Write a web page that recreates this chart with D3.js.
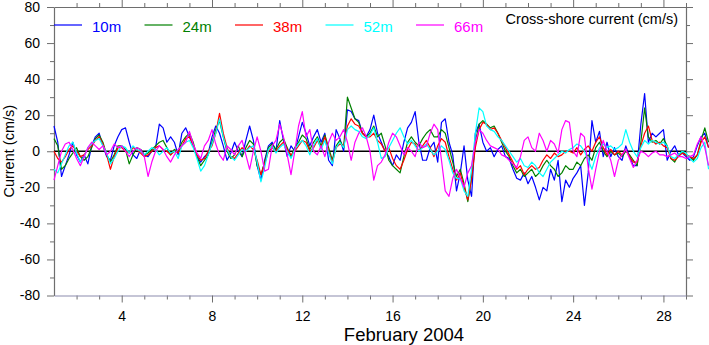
<!DOCTYPE html>
<html>
<head>
<meta charset="utf-8">
<script src="https://cdn.jsdelivr.net/npm/d3@7"></script>
<style>
  html, body { margin: 0; padding: 0; background: #fff; }
  svg { display: block; }
  text { font-family: "Liberation Sans", Arial, Helvetica, sans-serif; }
</style>
</head>
<body>
<svg id="chart" width="709" height="345"></svg>
<script>
// ---------------- DATA ----------------
// Sampling: every 4 hours (6 per day) starting 1 Feb 2004 00:00
const startDay = 1;
const samplesPerDay = 6;

const seriesNames = ["10m", "24m", "38m", "52m", "66m"];
const seriesColors = ["#0000ff", "#008000", "#ff0000", "#00ffff", "#ff00ff"];

const s10 = [
  14, 5, -14, -8, -2, 5,
  -2, -6, -2, -7, 3, 8,
  10, 3, -3, -5, 3, 8,
  12, 13, 5, -2, -4, 1,
  -2, -3, 0, 2, 15, 13,
  5, 8, 5, -2, 10, 13,
  8, 3, -3, -6, -3, -1,
  8, 14, 10, 3, -5, -1,
  5, 0, -3, 6, 14, 6,
  -8, -16, -5, 3, 5, 0,
  17, 6, -3, 3, 0, 8,
  16, 10, 3, 8, 12, 5,
  10, -5, -8, 12, 7, 0,
  23, 22, 18, 17, 10, 8,
  12, 20, 10, 5, 0, -3,
  -8, -2, -5, 5, 13, 16,
  22, 5, -5, -5, 2, 5,
  -6, 16, 18, 5, -2, -22,
  -12, 3, -16, -25, 10, 15,
  5, 0, 2, -3, 1, 3,
  -3, -4, -10, -15, -16, -12,
  -18, -14, -20, -27, -20, -22,
  -10, -16, -5, -28, -16, -20,
  -15, -12, -8, -30, -12, 17,
  5, 11, -3, 5, -3, 2,
  -3, -5, 3, -3, -8, -8,
  15, 32, 5, 10, 8, 10,
  12, -5, 0, 3, -2, -1,
  -3, -5, -3, 3, 8, 10,
  2
];

const s24 = [
  7, 3, -10, -8, -4, -1,
  2, -3, -5, -3, 2, 7,
  9, 5, -2, -6, -2, 3,
  3, 1, -7, -2, 2, 1,
  -2, -1, 1, 3, 5, 6,
  2, -2, 1, 0, 5, 8,
  10, 5, -3, -8, -5, -2,
  5, 12, 17, 8, 0, -4,
  -2, 3, -3, 2, 6, 4,
  -8, -13, -6, 2, 4, 1,
  5, 7, 2, -3, 2, 5,
  9, 7, 1, 5, 8, 3,
  9, 2, -5, 3, 6, 2,
  30, 24, 18, 16, 10, 8,
  10, 14, 8, 10, 3, -5,
  -8, -10, -12, -3, 5, 8,
  5, 3, 7, 10, 12, 8,
  8, 12, 10, 2, -6, -14,
  -10, -18, -28, -15, 5, 15,
  17, 15, 13, 14, 10, 5,
  0, -3, -8, -12, -10, -14,
  -12, -10, -14, -12, -8, -5,
  -8, -10, -14, -12, -8, -10,
  -10, -6, -8, -4, -2, -5,
  2, 5, 0, -3, 0, -2,
  -1, -3, 0, -2, -5, -8,
  5, 24, 8, 5, 6, 4,
  7, 3, -4, -6, -2, 0,
  -2, -3, -5, -2, 6, 13,
  5
];

const s38 = [
  0, -4, -6, -3, 1, 3,
  0, -3, -2, 1, 3, 6,
  8, 4, -2, -10, -3, 2,
  2, 0, -1, 2, 1, -1,
  -3, -2, 0, 2, 3, 1,
  0, -2, 0, -1, 3, 7,
  8, 3, -2, -5, -4, 0,
  3, 10, 21, 10, 2, -3,
  -4, -1, 2, 0, 3, 1,
  -5, -13, -7, 0, 2, 0,
  3, 5, 1, -2, 0, 3,
  6, 5, 0, 2, 6, 2,
  8, 0, -6, 2, 4, 3,
  14, 18, 15, 14, 10, 8,
  8, 10, 6, 4, 0, 2,
  -4, -8, -10, -5, 1, 5,
  4, 0, 3, 6, 2, -3,
  3, 7, 5, -3, -10, -16,
  -12, -20, -27, -15, 2, 12,
  16, 15, 12, 13, 10, 6,
  2, -2, -6, -10, -8, -13,
  -10, -8, -10, -9, -5, -2,
  -4, -1, -3, -2, 0, 0,
  -1, 2, -2, 1, 3, 0,
  5, 8, 2, -2, 1, -2,
  0, -2, 1, -3, -6, -6,
  3, 10, 14, 6, 4, 5,
  3, 2, -4, -5, -3, -1,
  -2, -3, -4, -2, 5, 8,
  2
];

const s52 = [
  -10, -12, -7, -2, 3, 5,
  -1, -6, -3, 2, 4, 6,
  7, 3, -1, -7, -4, 0,
  3, 2, -1, 3, 1, 0,
  -2, 0, 2, 1, -2, 0,
  2, -1, 0, -4, 3, 5,
  6, 2, -4, -11, -8, -2,
  4, 10, 18, 8, 1, -3,
  -5, -2, 1, 0, 2, 3,
  -6, -17, -9, 1, 3, -1,
  2, 4, 0, -4, 1, 4,
  6, 3, -2, 3, 7, 1,
  6, -1, -7, 2, 5, 2,
  12, 14, 12, 11, 8, 7,
  9, 13, 5, -4, -3, 2,
  6, 10, 13, 8, 4, 6,
  3, 0, 2, 4, 1, -2,
  0, 3, 1, -5, -12, -15,
  -15, -22, -25, -10, 10, 24,
  22, 14, 12, 11, 8, 6,
  3, 0, -3, -6, -4, -8,
  -9, -6, -8, -12, -14, -10,
  -6, -4, -2, 0, -1, 1,
  2, 4, 3, 0, -5, -10,
  -3, 2, 4, 2, 3, 1,
  2, 4, 12, 5, 0, -3,
  2, 6, 4, 6, 5, 4,
  5, 3, -3, -4, -2, 0,
  -1, -4, -6, -4, 2, 5,
  -10
];

const s66 = [
  -16, -8, 0, 4, 5, 1,
  -4, -8, -3, 2, 5, 3,
  1, 3, -2, 0, 4, 2,
  3, 0, -3, 0, 2, 1,
  -3, -14, -6, 0, 3, 1,
  -3, -6, -2, 1, 3, 5,
  11, 4, -1, -4, 3, 6,
  12, 4, -2, -5, 3, 1,
  -2, 3, 6, -2, -10, 0,
  8, 0, -11, -10, 3, 6,
  15, 8, -2, -13, 0, 14,
  22, 8, 12, 0, -2, 3,
  -3, 5, 10, 6, 8, 12,
  5, -5, 5, 10, 13, 8,
  0, -16, -8, -6, -2, 5,
  10, 8, 3, -2, 2, 0,
  -3, 5, 2, 3, 10, 15,
  12, -5, -22, -25, -15, -10,
  -15, -20, -12, -8, 5, 12,
  10, 6, 3, 2, 1, -2,
  -3, -5, -7, -9, -3, 6,
  8, 2, 0, 10, 6, 0,
  6, 4, -1, 12, 17, 16,
  0, -3, 10, 8, -9, -21,
  -10, 0, 6, 0, -5, -14,
  -5, -2, 1, -4, -9, -5,
  0, -1, -3, -1, 0, -2,
  -2, -3, -2, -1, -3, -3,
  -4, -3, -2, 4, 8, 2,
  -8
];

const yMajorTicks = [-80, -60, -40, -20, 0, 20, 40, 60, 80];
const yMinorTicks = [-70, -50, -30, -10, 10, 30, 50, 70];
const xMajorTicks = [4, 8, 12, 16, 20, 24, 28];
const xMinorTicks = [2, 3, 5, 6, 7, 9, 10, 11, 13, 14, 15, 17, 18, 19, 21, 22, 23, 25, 26, 27, 29];

const xTitle = "February 2004";
const yTitle = "Current (cm/s)";
const chartTitle = "Cross-shore current (cm/s)";

// ---------------- DRAW ----------------
(function () {
const svg = d3.select("#chart");
const pLeft = 54, pRight = 686, pTop = 7, pBottom = 295.5;

const x = d3.scaleLinear().domain([1, 29]).range([pLeft, pRight]);
const y = d3.scaleLinear().domain([-80, 80]).range([pBottom, pTop]);

const axisColor = "#6e6e6e";

function styleAxis(g, lineColor) {
  g.select(".domain").attr("stroke", lineColor || axisColor).attr("stroke-width", 1.2);
  g.selectAll(".tick line").attr("stroke", axisColor).attr("stroke-width", 1);
  g.selectAll(".tick text").attr("fill", "#000").style("font-size", "14px")
    .style("font-family", "'Liberation Sans', Arial, sans-serif");
}
function minorStyle(g) {
  g.select(".domain").remove();
  g.selectAll(".tick line").attr("stroke", axisColor);
}

// minor ticks
svg.append("g").attr("transform", `translate(${pLeft},0)`)
  .call(d3.axisLeft(y).tickValues(yMinorTicks).tickSize(4).tickFormat("")).call(minorStyle);
svg.append("g").attr("transform", `translate(${pRight},0)`)
  .call(d3.axisRight(y).tickValues(yMinorTicks).tickSize(4).tickFormat("")).call(minorStyle);
svg.append("g").attr("transform", `translate(0,${pBottom})`)
  .call(d3.axisBottom(x).tickValues(xMinorTicks).tickSize(4).tickFormat("")).call(minorStyle);
svg.append("g").attr("transform", `translate(0,${pTop})`)
  .call(d3.axisTop(x).tickValues(xMinorTicks).tickSize(4).tickFormat("")).call(minorStyle);

// major axes
svg.append("g").attr("transform", `translate(${pLeft},0)`)
  .call(d3.axisLeft(y).tickValues(yMajorTicks).tickSize(7).tickSizeOuter(0).tickPadding(7).tickFormat(d => String(d)))
  .call(g => styleAxis(g));
svg.append("g").attr("transform", `translate(${pRight},0)`)
  .call(d3.axisRight(y).tickValues(yMajorTicks).tickSize(7).tickSizeOuter(0).tickFormat(""))
  .call(g => styleAxis(g));
svg.append("g").attr("transform", `translate(0,${pTop})`)
  .call(d3.axisTop(x).tickValues(xMajorTicks).tickSize(7).tickSizeOuter(0).tickFormat(""))
  .call(g => styleAxis(g));
svg.append("g").attr("transform", `translate(0,${pBottom})`)
  .call(d3.axisBottom(x).tickValues(xMajorTicks).tickSize(7).tickSizeOuter(0).tickPadding(9).tickFormat(d => String(d)))
  .call(g => styleAxis(g, "#8c8cae"));

// zero line
svg.append("line")
  .attr("x1", x(1)).attr("x2", x(29))
  .attr("y1", y(0)).attr("y2", y(0))
  .attr("stroke", "#000").attr("stroke-width", 1.5);

// series
const allSeries = [s10, s24, s38, s52, s66];
const line = d3.line()
  .x((d, i) => x(startDay + i / samplesPerDay))
  .y(d => y(d));

allSeries.forEach((vals, k) => {
  svg.append("path")
    .datum(vals)
    .attr("fill", "none")
    .attr("stroke", seriesColors[k])
    .attr("stroke-width", 1.2)
    .attr("stroke-linejoin", "round")
    .attr("d", line);
});

// legend
const legendX0 = 54, legendStep = 90.5, legendY = 25;
seriesNames.forEach((name, k) => {
  const lx = legendX0 + k * legendStep;
  svg.append("line")
    .attr("x1", lx).attr("x2", lx + 28)
    .attr("y1", legendY).attr("y2", legendY)
    .attr("stroke", seriesColors[k]).attr("stroke-width", 1.2);
  svg.append("text")
    .attr("x", lx + 38).attr("y", legendY + 6.5)
    .attr("fill", seriesColors[k])
    .style("font-size", "15px")
    .text(name);
});

// title (top-right)
svg.append("text")
  .attr("x", 678).attr("y", 24)
  .attr("text-anchor", "end")
  .style("font-size", "14.5px")
  .attr("fill", "#000")
  .text(chartTitle);

// axis titles
svg.append("text")
  .attr("x", 404).attr("y", 340.5)
  .attr("text-anchor", "middle")
  .style("font-size", "18.5px")
  .attr("fill", "#000")
  .text(xTitle);

svg.append("text")
  .attr("transform", `translate(13.5,${y(0)}) rotate(-90)`)
  .attr("text-anchor", "middle")
  .style("font-size", "14.5px")
  .attr("fill", "#000")
  .text(yTitle);
})();
</script>
</body>
</html>
